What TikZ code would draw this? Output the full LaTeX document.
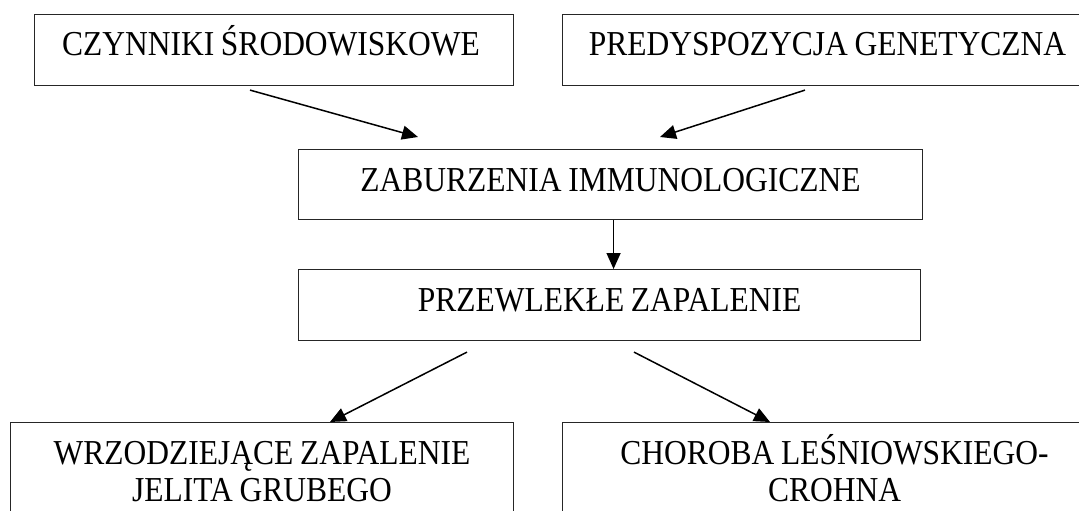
\documentclass[tikz,border=0pt]{standalone}
\usepackage{fontspec}
\setmainfont[FakeStretch=0.9,WordSpace={0.85,0,0}]{Liberation Serif}
\usetikzlibrary{arrows.meta,calc}
\begin{document}
\begin{tikzpicture}[x=1pt,y=-1pt,
  box/.style={draw=black!85, line width=1.1pt, rectangle, inner sep=0pt, anchor=north west},
  lbl/.style={font=\fontsize{35}{37}\selectfont, inner sep=0pt, anchor=base, align=flush center},
  arr/.style={line width=1.5pt, -{Triangle[length=16pt,width=14pt]}}]
\useasboundingbox (0,0) rectangle (1079,511);
\clip (0,0) rectangle (1079,511);
\fill[white] (0,0) rectangle (1079,511);
% boxes
\node[box, minimum width=479pt, minimum height=71pt] (b1) at (34,14) {};
\node[box, minimum width=530pt, minimum height=71pt] (b2) at (562,14) {};
\node[box, minimum width=624pt, minimum height=70pt] (b3) at (298,149) {};
\node[box, minimum width=622pt, minimum height=71pt] (b4) at (298,269) {};
\node[box, minimum width=503pt, minimum height=120pt] (b5) at (10,422) {};
\node[box, minimum width=544pt, minimum height=120pt] (b6) at (562,422) {};
% texts
\node[lbl] (t1) at ($(b1.north)+(-3,42)$) {CZYNNIKI ŚRODOWISKOWE};
\node[lbl] (t2) at ($(b2.north)+(0,42)$) {PREDYSPOZYCJA GENETYCZNA};
\node[lbl] (t3) at ($(b3.north)+(0,42)$) {ZABURZENIA IMMUNOLOGICZNE};
\node[lbl] (t4) at ($(b4.north)+(0,42)$) {PRZEWLEKŁE ZAPALENIE};
\node[lbl, text width=500pt] (t5) at ($(b5.north)+(0,42)$) {WRZODZIEJĄCE ZAPALENIE\\JELITA GRUBEGO};
\node[lbl, text width=540pt] (t6) at ($(b6.north)+(0,42)$) {CHOROBA LEŚNIOWSKIEGO-\\CROHNA};
% connector end points
\coordinate (s1) at ($(b1.south west)+(216,4)$);
\coordinate (e1) at ($(b3.north west)+(120,-12)$);
\coordinate (s2) at ($(b2.south west)+(243,4)$);
\coordinate (e2) at ($(b3.north west)+(362,-12)$);
\coordinate (s4) at ($(b4.south west)+(169,11)$);
\coordinate (e4) at ($(b5.north west)+(320,0)$);
\coordinate (s5) at ($(b4.south west)+(336,11)$);
\coordinate (e5) at ($(b6.north west)+(208,0)$);
\coordinate (v1) at ($(b3.south)+(3,0)$);
% connectors
\draw[arr] (s1) -- (e1);
\draw[arr] (s2) -- (e2);
\draw[arr] (v1) -- (v1 |- b4.north);
\draw[arr] (s4) -- (e4);
\draw[arr] (s5) -- (e5);
\end{tikzpicture}
\end{document}
